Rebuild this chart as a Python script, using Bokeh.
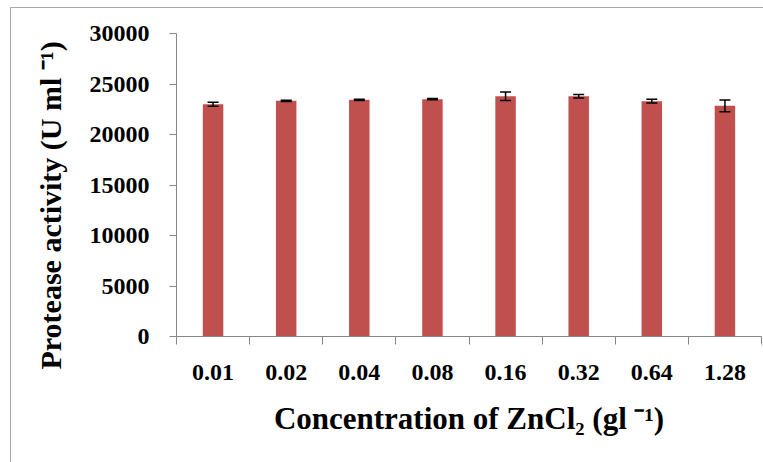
import numpy as np
from bokeh.plotting import figure
from bokeh.models import (ColumnDataSource, Whisker, TeeHead, LinearAxis, FixedTicker,
                          Range1d, Title, NumeralTickFormatter)
from bokeh.embed import file_html
from bokeh.resources import INLINE

categories = ["0.01", "0.02", "0.04", "0.08", "0.16", "0.32", "0.64", "1.28"]
activity = [23000, 23330, 23430, 23500, 23790, 23790, 23300, 22840]
errors = [200, 60, 60, 60, 430, 180, 180, 580]
y_ticks = [0, 5000, 10000, 15000, 20000, 25000, 30000]

FONT = "Liberation Serif"
BAR = "#C0504D"
AXIS = "#868686"

pos = np.arange(len(categories)) + 0.5
src = ColumnDataSource(dict(
    x=pos, top=activity,
    upper=[a + e for a, e in zip(activity, errors)],
    lower=[a - e for a, e in zip(activity, errors)],
))

p = figure(width=753, height=455, output_backend="svg", toolbar_location=None,
           x_axis_type=None, y_axis_type=None,
           x_range=Range1d(0, len(categories)), y_range=Range1d(0, 30000),
           min_border_left=165, min_border_right=3, min_border_top=25, min_border_bottom=127)
p.margin = (7, 0, 0, 10)
p.styles = {"border-left": "1px solid #a8a8a8", "border-top": "1px solid #a8a8a8"}
p.outline_line_color = None
p.grid.visible = False
p.background_fill_color = "white"
p.border_fill_color = "white"

p.vbar(x="x", top="top", width=0.28, bottom=0, source=src, fill_color=BAR, line_color=None)
p.add_layout(Whisker(source=src, base="x", upper="upper", lower="lower", level="overlay",
                     line_color="black", line_width=1.5,
                     upper_head=TeeHead(size=11, line_color="black", line_width=1.5),
                     lower_head=TeeHead(size=11, line_color="black", line_width=1.5)))

# y axis
yax = LinearAxis(ticker=FixedTicker(ticks=y_ticks), formatter=NumeralTickFormatter(format="0"))
yax.axis_line_color = AXIS
yax.major_tick_line_color = AXIS
yax.major_tick_out = 7
yax.major_tick_in = 0
yax.minor_tick_line_color = None
yax.major_label_standoff = 20
yax.major_label_text_font = FONT
yax.major_label_text_font_style = "bold"
yax.major_label_text_font_size = "24px"
yax.major_label_text_color = "black"
p.add_layout(yax, "left")

# x axis: labels at category centres, tick marks (minor) at category boundaries
xax = LinearAxis(ticker=FixedTicker(ticks=list(pos),
                                    minor_ticks=list(range(len(categories) + 1))),
                 major_label_overrides={float(x): c for x, c in zip(pos, categories)})
xax.axis_line_color = AXIS
xax.major_tick_line_color = None
xax.major_tick_out = 0
xax.major_tick_in = 0
xax.minor_tick_line_color = AXIS
xax.minor_tick_out = 8
xax.minor_tick_in = 0
xax.major_label_standoff = 20
xax.major_label_text_font = FONT
xax.major_label_text_font_style = "bold"
xax.major_label_text_font_size = "24px"
xax.major_label_text_color = "black"
xax.axis_label = "Concentration of ZnCl\u2082 (gl \u207b\u00b9)"
xax.axis_label_text_font = FONT
xax.axis_label_text_font_style = "bold"
xax.axis_label_text_font_size = "31px"
xax.axis_label_text_color = "black"
xax.axis_label_standoff = 18
p.add_layout(xax, "below")

p.add_layout(Title(text="Protease activity (U ml \u207b\u00b9)", align="left", offset=-33,
                   text_font=FONT, text_font_style="bold", text_font_size="30px",
                   text_color="black", standoff=40), "left")

open("out.html", "w").write(file_html(p, INLINE))
